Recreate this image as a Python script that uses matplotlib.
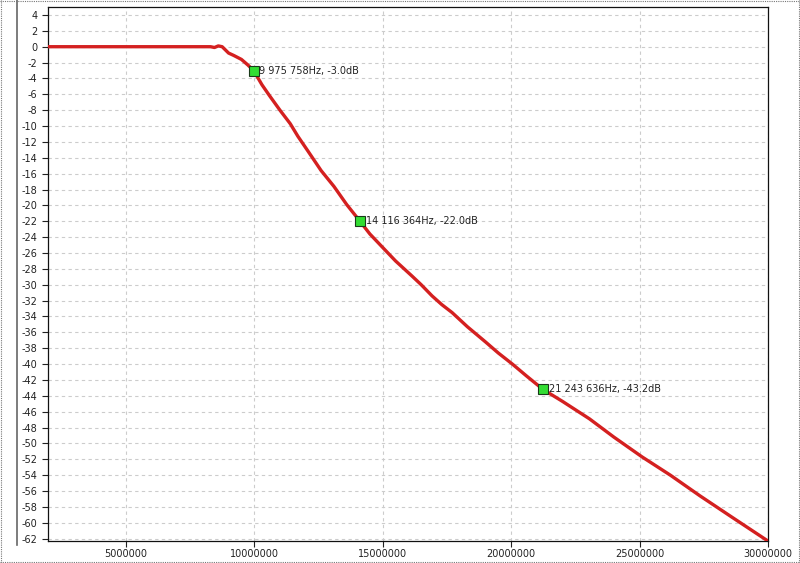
import matplotlib
matplotlib.use("Agg")
import matplotlib.pyplot as plt
from matplotlib.lines import Line2D

plt.rcParams["axes.unicode_minus"] = False

# response curve (Hz, dB)
freq_hz = [2.0e6, 4.0e6, 6.0e6, 8.0e6, 8.3e6, 8.45e6, 8.6e6, 8.75e6, 9.0e6, 9.2e6,
           9.5e6, 9.75e6, 9.975758e6, 10.3e6, 10.6e6, 11.0e6, 11.4e6, 11.7e6, 12.1e6,
           12.6e6, 13.1e6, 13.6e6, 14.116364e6, 14.5e6, 14.97e6, 15.5e6, 16.14e6,
           16.5e6, 16.92e6, 17.3e6, 17.7e6, 18.3e6, 19.0e6, 19.5e6, 20.05e6, 20.6e6,
           21.243636e6, 22.0e6, 23.05e6, 24.0e6, 25.1e6, 26.2e6, 27.35e6, 28.6e6, 30.0e6]
gain_db = [0.0, 0.0, 0.0, 0.0, 0.0, -0.1, 0.1, 0.0, -0.8, -1.1,
           -1.6, -2.3, -3.0, -4.8, -6.2, -8.0, -9.7, -11.3, -13.2,
           -15.6, -17.6, -19.9, -22.0, -23.6, -25.2, -27.0, -28.9,
           -30.0, -31.4, -32.5, -33.5, -35.3, -37.2, -38.6, -40.0, -41.5,
           -43.2, -44.7, -46.9, -49.2, -51.7, -54.0, -56.6, -59.3, -62.3]

# cursor markers
mark_hz = [9975758, 14116364, 21243636]
mark_db = [-3.0, -22.0, -43.2]
mark_txt = ["9 975 758Hz, -3.0dB", "14 116 364Hz, -22.0dB", "21 243 636Hz, -43.2dB"]

x_ticks = [5000000, 10000000, 15000000, 20000000, 25000000, 30000000]
y_ticks = list(range(-62, 5, 2))

fig = plt.figure(figsize=(8.0, 5.63), dpi=100)
ax = fig.add_axes([0.06, 0.039, 0.90, 0.9485])

ax.plot(freq_hz, gain_db, color="#d42020", lw=2.4, solid_joinstyle="round", zorder=3)
ax.plot(mark_hz, mark_db, ls="none", marker="s", ms=6.5, mfc="#33dd33", mec="#1a3a1a",
        mew=0.8, zorder=4)
for xh, yd, t in zip(mark_hz, mark_db, mark_txt):
    ax.annotate(t, (xh, yd), xytext=(4, 0), textcoords="offset points", va="center",
                ha="left", fontsize=7, color="#222222", zorder=5)

ax.set_xlim(1.97e6, 30.0e6)
ax.set_ylim(-62.3, 5.0)
ax.set_xticks(x_ticks)
ax.set_xticklabels([str(v) for v in x_ticks])
ax.set_yticks(y_ticks)
ax.tick_params(axis="both", labelsize=7, colors="#222222", length=4, width=0.8,
               direction="out")
ax.tick_params(axis="x", pad=2)
ax.grid(True, color="#cccccc", ls=(0, (3, 3)), lw=0.8)
for sp in ax.spines.values():
    sp.set_color("#111111")
    sp.set_linewidth(0.9)

# window frame: splitter line and dotted border
fig.add_artist(Line2D([17 / 800, 17 / 800], [1 - 545 / 563, 1.0], color="#666666",
                      lw=1.2, transform=fig.transFigure))
for xs, ys in [([0, 1], [0.001, 0.001]), ([0, 1], [0.999, 0.999]),
               ([0.001, 0.001], [0, 1]), ([0.999, 0.999], [0, 1])]:
    fig.add_artist(Line2D(xs, ys, color="#777777", lw=0.8, ls=(0, (1, 1)),
                          transform=fig.transFigure))

fig.savefig("out.png", dpi=100)
